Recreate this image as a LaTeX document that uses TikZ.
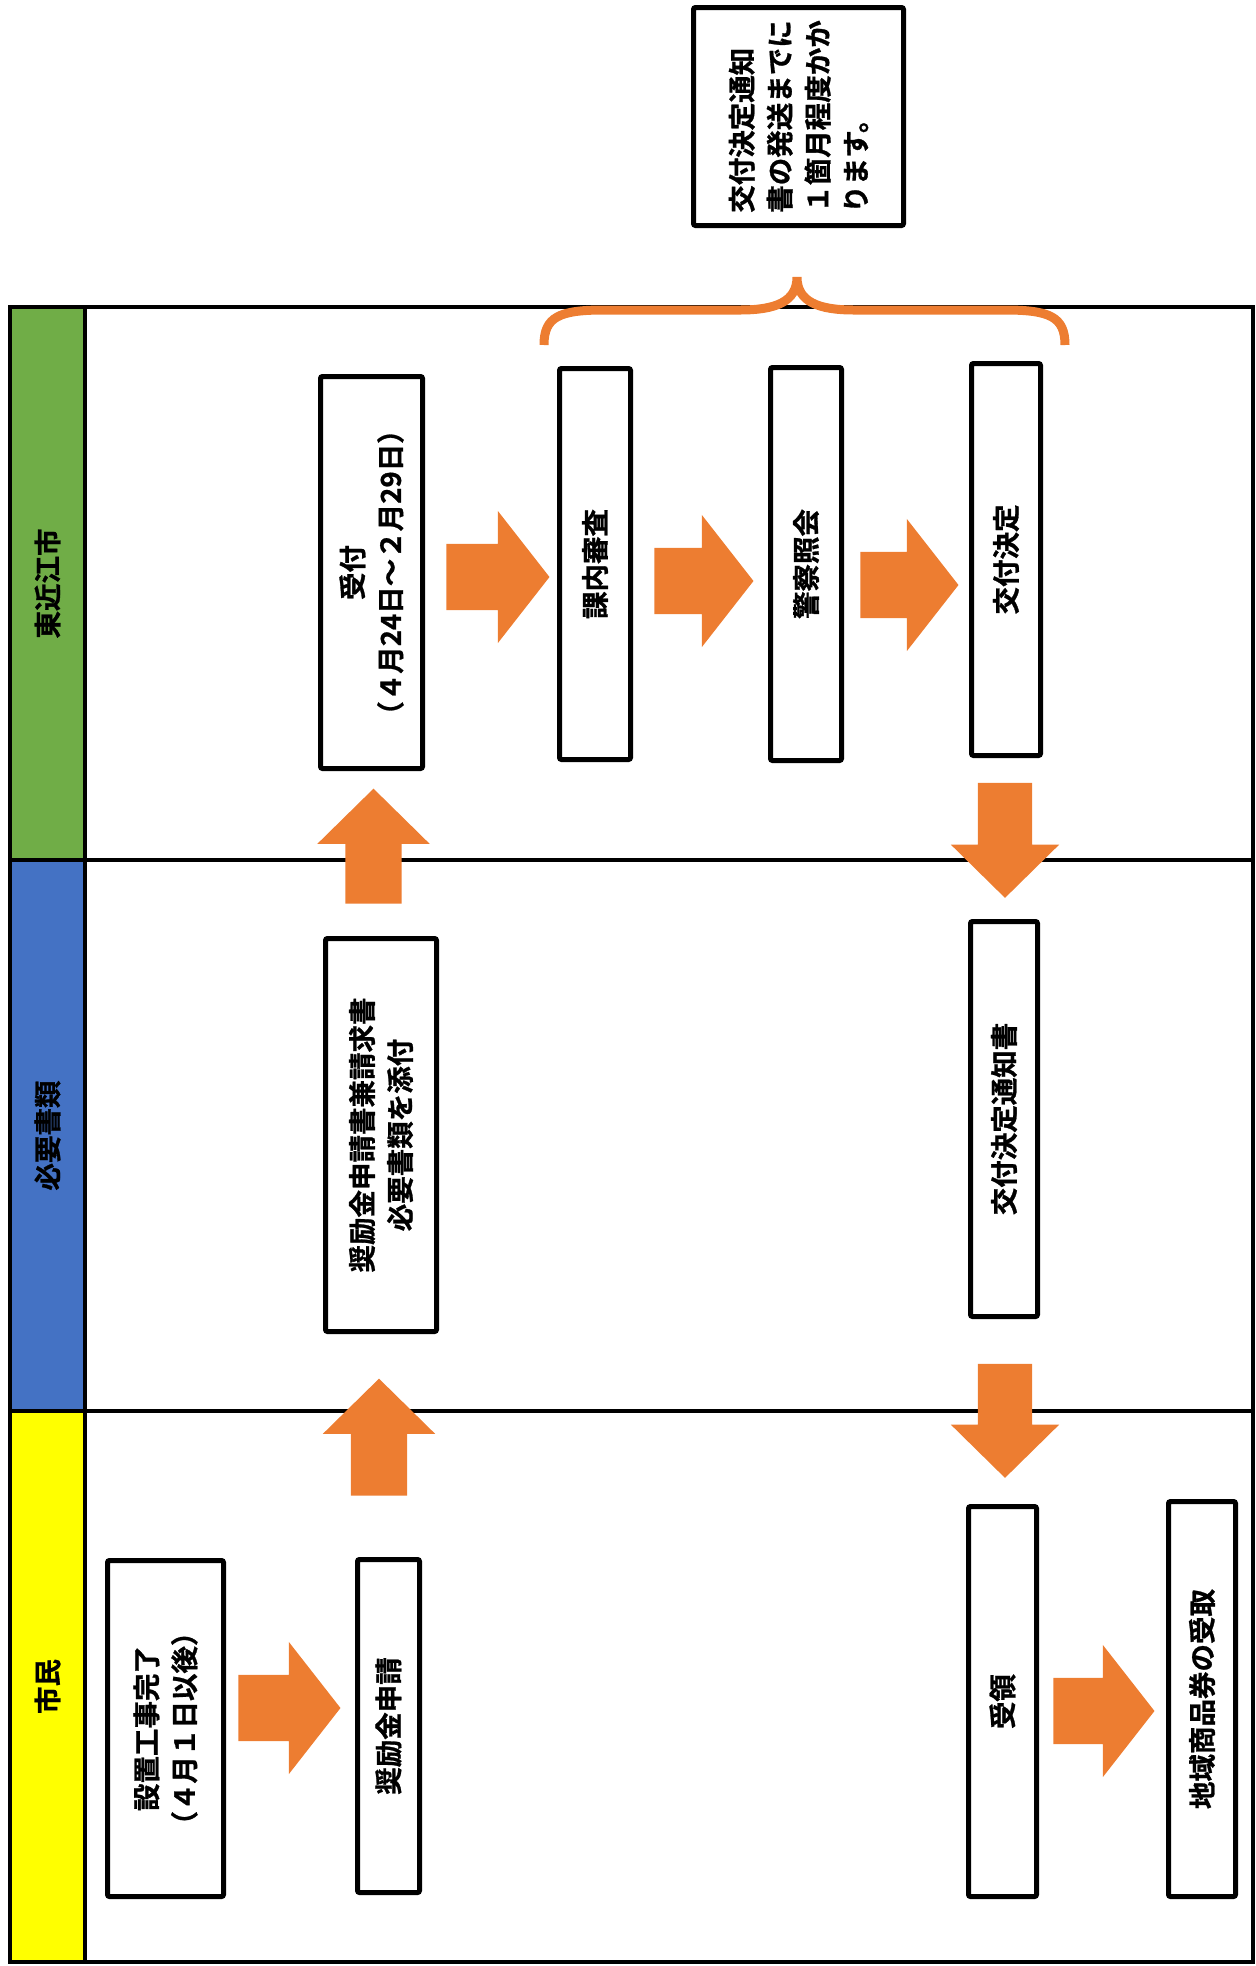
\documentclass[tikz,border=0pt]{standalone}
\usepackage{fontspec}
\newfontfamily\jpfont{Noto Sans CJK JP}[BoldFont={Noto Sans CJK JP Bold},BoldFeatures={FakeBold=1}]
\usetikzlibrary{shapes.arrows}
\definecolor{flowOrange}{HTML}{ED7D31}
\definecolor{laneGreen}{HTML}{70AD47}
\definecolor{laneBlue}{HTML}{4472C4}
\definecolor{laneYellow}{HTML}{FFFF00}

\begin{document}
\begin{tikzpicture}
[x=1pt,y=1pt,
  every node/.style={font=\jpfont\bfseries\fontsize{27.5}{38}\selectfont},
  boxDecorate/.style={draw,line width=5pt,fill=white,rounded corners=2pt,rotate=90,align=center,inner sep=0pt},
  arrowDecorate/.style={single arrow,fill=flowOrange,inner xsep=0pt,single arrow head indent=0pt},
  braceDecorate/.style={draw=flowOrange,line width=9pt}]
\useasboundingbox (0,0) rectangle (1256,-1966);
%% lanes
\fill[laneGreen] (10,-307) rectangle (85,-860);
\fill[laneBlue] (10,-860) rectangle (85,-1411);
\fill[laneYellow] (10,-1411) rectangle (85,-1962);
\draw[line width=4pt] (10,-307) rectangle (1253,-1962);
\draw[line width=4pt] (85,-307) -- (85,-1962);
\draw[line width=4pt] (10,-860) -- (1253,-860);
\draw[line width=4pt] (10,-1411) -- (1253,-1411);
\node (laneCity) at (47.5,-583.5) [rotate=90] {東近江市};
\node (laneDocs) at (47.5,-1135.5) [rotate=90] {必要書類};
\node (laneCitizen) at (47.5,-1686.5) [rotate=90] {市民};
%% boxes
\foreach \nodename/\x/\y/\bw/\bh/\txt in {
  setup/165.5/-1728.5/116/336/{設置工事完了\\（４月１日以後）},
  apply/388.5/-1726/62/333/{奨励金申請},
  receive/1002.5/-1701.5/68/390/{受領},
  coupon/1202/-1699/67/395/{地域商品券の受取},
  form/381/-1135/111/393/{奨励金申請書兼請求書\\必要書類を添付},
  notice/1004/-1119/67/395/{交付決定通知書},
  accept/371.5/-572.5/102/392/{受付\\（４月24日～２月29日）},
  review/595/-564/71/391/{課内審査},
  police/806/-564/71/393/{警察照会},
  decide/1006/-559.5/69/392/{交付決定}}
{
  \node (\nodename) at (\x,\y) [boxDecorate,minimum width=\bh pt,minimum height=\bw pt] {\txt};
}
\node (note) at (798.5,-116.5) [boxDecorate,align=left,minimum width=218pt,minimum height=210pt]
  {交付決定通知\\書の発送までに\\１箇月程度かか\\ります。};
%% block arrows
\foreach \arrowname/\x/\y/\len/\shaft/\ext/\tip/\ang in {
  setupApply/276.5/-1708/102/33/33/104/0,
  acceptReview/485/-577/103/33/33/104/0,
  reviewPolice/691/-581/99/33/33/104/0,
  policeDecide/896.5/-585/98/33/33/104/0,
  receiveCoupon/1091/-1711/101/33/33/104/0,
  applyForm/379/-1451/117/28/28/91/90,
  formAccept/373.5/-860/115/28/28/91/90,
  decideNotice/1005/-827/115/27/27/91/-90,
  noticeReceive/1005/-1407.5/114/27/27/91/-90}
{
  \node (\arrowname) at (\x,\y) [arrowDecorate,minimum height=\len pt,inner ysep=\shaft pt,
    single arrow head extend=\ext pt,single arrow tip angle=\tip,rotate=\ang] {};
}
%% brace
\coordinate (braceL) at (544,-345);
\coordinate (braceR) at (1065,-345);
\coordinate (braceTip) at (797,-277);
\draw[braceDecorate] (braceL) .. controls +(0,28) and +(-45,0) .. (604,-310) -- (740,-310)
  .. controls +(35,0) and +(0,-25) .. (braceTip)
  .. controls +(0,-25) and +(-35,0) .. (854,-310) -- (1005,-310)
  .. controls +(45,0) and +(0,28) .. (braceR);
\end{tikzpicture}
\end{document}
